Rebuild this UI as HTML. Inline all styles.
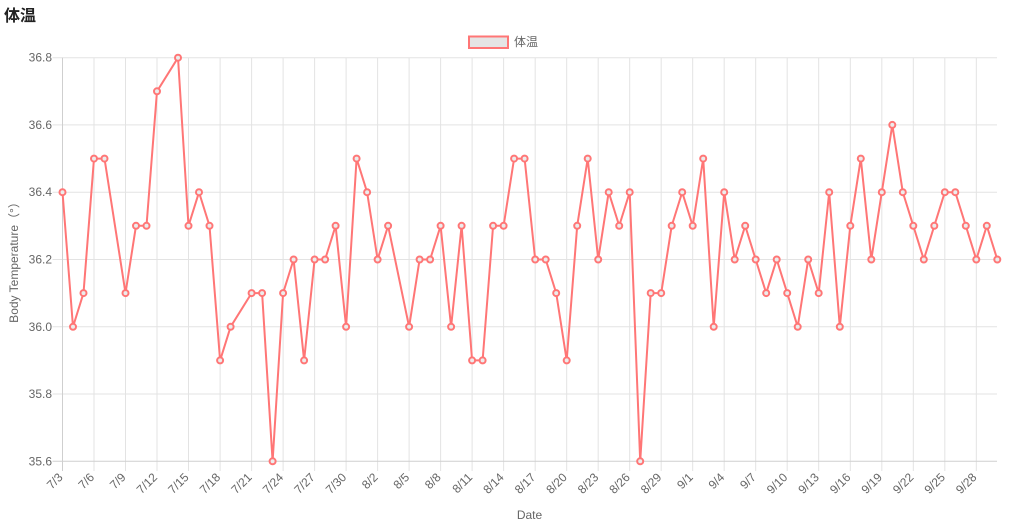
<!DOCTYPE html>
<html>
<head>
<meta charset="utf-8">
<style>
  html, body { margin: 0; padding: 0; background: #fff; }
  body { width: 1010px; height: 530px; overflow: hidden; position: relative; }
  svg { position: absolute; left: 0; top: 0; }
  .t { font-family: "Liberation Sans", "Noto Sans CJK JP", sans-serif; font-size: 12px; fill: #666; }
  .title { font-family: "Liberation Sans", "Noto Sans CJK JP", sans-serif; font-size: 16px; font-weight: bold; fill: #222; }
</style>
</head>
<body>
<svg width="1010" height="530" viewBox="0 0 1010 530" xmlns="http://www.w3.org/2000/svg">
  <defs>
    <marker id="pt" markerUnits="userSpaceOnUse" markerWidth="12" markerHeight="12" refX="6" refY="6" overflow="visible">
      <circle cx="6" cy="6" r="3" fill="#ececec" stroke="#ff7676" stroke-width="2"/>
    </marker>
  </defs>

  <!-- Title -->
  <text class="title" x="4" y="21">体温</text>

  <!-- Legend -->
  <rect x="469" y="36.5" width="39" height="11.5" fill="#e5e5e5" stroke="#ff7676" stroke-width="2"/>
  <text class="t" x="514" y="46">体温</text>

  <!-- Horizontal gridlines -->
  <g stroke="#e3e3e3" stroke-width="1">
    <line x1="52.5" y1="57.7" x2="997" y2="57.7"/>
    <line x1="52.5" y1="124.9" x2="997" y2="124.9"/>
    <line x1="52.5" y1="192.2" x2="997" y2="192.2"/>
    <line x1="52.5" y1="259.5" x2="997" y2="259.5"/>
    <line x1="52.5" y1="326.8" x2="997" y2="326.8"/>
    <line x1="52.5" y1="394.0" x2="997" y2="394.0"/>
  </g>
  <!-- Vertical gridlines -->
  <g stroke="#e3e3e3" stroke-width="1">
    <line x1="94.0" y1="57.7" x2="94.0" y2="471"/>
    <line x1="125.5" y1="57.7" x2="125.5" y2="471"/>
    <line x1="157.0" y1="57.7" x2="157.0" y2="471"/>
    <line x1="188.5" y1="57.7" x2="188.5" y2="471"/>
    <line x1="220.1" y1="57.7" x2="220.1" y2="471"/>
    <line x1="251.6" y1="57.7" x2="251.6" y2="471"/>
    <line x1="283.1" y1="57.7" x2="283.1" y2="471"/>
    <line x1="314.6" y1="57.7" x2="314.6" y2="471"/>
    <line x1="346.1" y1="57.7" x2="346.1" y2="471"/>
    <line x1="377.6" y1="57.7" x2="377.6" y2="471"/>
    <line x1="409.1" y1="57.7" x2="409.1" y2="471"/>
    <line x1="440.6" y1="57.7" x2="440.6" y2="471"/>
    <line x1="472.1" y1="57.7" x2="472.1" y2="471"/>
    <line x1="503.6" y1="57.7" x2="503.6" y2="471"/>
    <line x1="535.2" y1="57.7" x2="535.2" y2="471"/>
    <line x1="566.7" y1="57.7" x2="566.7" y2="471"/>
    <line x1="598.2" y1="57.7" x2="598.2" y2="471"/>
    <line x1="629.7" y1="57.7" x2="629.7" y2="471"/>
    <line x1="661.2" y1="57.7" x2="661.2" y2="471"/>
    <line x1="692.7" y1="57.7" x2="692.7" y2="471"/>
    <line x1="724.2" y1="57.7" x2="724.2" y2="471"/>
    <line x1="755.7" y1="57.7" x2="755.7" y2="471"/>
    <line x1="787.2" y1="57.7" x2="787.2" y2="471"/>
    <line x1="818.7" y1="57.7" x2="818.7" y2="471"/>
    <line x1="850.3" y1="57.7" x2="850.3" y2="471"/>
    <line x1="881.8" y1="57.7" x2="881.8" y2="471"/>
    <line x1="913.3" y1="57.7" x2="913.3" y2="471"/>
    <line x1="944.8" y1="57.7" x2="944.8" y2="471"/>
    <line x1="976.3" y1="57.7" x2="976.3" y2="471"/>
  </g>
  <!-- Axis lines -->
  <g stroke="#cfcfcf" stroke-width="1">
    <line x1="62.5" y1="57.7" x2="62.5" y2="471"/>
    <line x1="52.5" y1="461.3" x2="997" y2="461.3"/>
  </g>

  <!-- Y tick labels -->
  <g class="t" text-anchor="end">
    <text x="52" y="61.7">36.8</text>
    <text x="52" y="128.9">36.6</text>
    <text x="52" y="196.2">36.4</text>
    <text x="52" y="263.5">36.2</text>
    <text x="52" y="330.8">36.0</text>
    <text x="52" y="398.0">35.8</text>
    <text x="52" y="465.3">35.6</text>
  </g>

  <!-- Y axis title -->
  <text class="t" text-anchor="middle" transform="translate(18,259.5) rotate(-90)">Body Temperature（°）</text>

  <!-- X tick labels -->
  <g class="t" text-anchor="end">
    <text transform="translate(63.5,478) rotate(-45)">7/3</text>
    <text transform="translate(95.0,478) rotate(-45)">7/6</text>
    <text transform="translate(126.5,478) rotate(-45)">7/9</text>
    <text transform="translate(158.0,478) rotate(-45)">7/12</text>
    <text transform="translate(189.5,478) rotate(-45)">7/15</text>
    <text transform="translate(221.1,478) rotate(-45)">7/18</text>
    <text transform="translate(252.6,478) rotate(-45)">7/21</text>
    <text transform="translate(284.1,478) rotate(-45)">7/24</text>
    <text transform="translate(315.6,478) rotate(-45)">7/27</text>
    <text transform="translate(347.1,478) rotate(-45)">7/30</text>
    <text transform="translate(378.6,478) rotate(-45)">8/2</text>
    <text transform="translate(410.1,478) rotate(-45)">8/5</text>
    <text transform="translate(441.6,478) rotate(-45)">8/8</text>
    <text transform="translate(473.1,478) rotate(-45)">8/11</text>
    <text transform="translate(504.6,478) rotate(-45)">8/14</text>
    <text transform="translate(536.2,478) rotate(-45)">8/17</text>
    <text transform="translate(567.7,478) rotate(-45)">8/20</text>
    <text transform="translate(599.2,478) rotate(-45)">8/23</text>
    <text transform="translate(630.7,478) rotate(-45)">8/26</text>
    <text transform="translate(662.2,478) rotate(-45)">8/29</text>
    <text transform="translate(693.7,478) rotate(-45)">9/1</text>
    <text transform="translate(725.2,478) rotate(-45)">9/4</text>
    <text transform="translate(756.7,478) rotate(-45)">9/7</text>
    <text transform="translate(788.2,478) rotate(-45)">9/10</text>
    <text transform="translate(819.7,478) rotate(-45)">9/13</text>
    <text transform="translate(851.3,478) rotate(-45)">9/16</text>
    <text transform="translate(882.8,478) rotate(-45)">9/19</text>
    <text transform="translate(914.3,478) rotate(-45)">9/22</text>
    <text transform="translate(945.8,478) rotate(-45)">9/25</text>
    <text transform="translate(977.3,478) rotate(-45)">9/28</text>
  </g>

  <!-- X axis title -->
  <text class="t" x="529.5" y="519" text-anchor="middle">Date</text>

  <!-- Data line -->
  <polyline fill="none" stroke="#ff7676" stroke-width="2" stroke-linejoin="miter"
    marker-start="url(#pt)" marker-mid="url(#pt)" marker-end="url(#pt)"
    points="62.5,192.2 73.0,326.8 83.5,293.1 94.0,158.6 104.5,158.6 125.5,293.1 136.0,225.8 146.5,225.8 157.0,91.3 178.0,57.7 188.5,225.8 199.0,192.2 209.5,225.8 220.1,360.4 230.6,326.8 251.6,293.1 262.1,293.1 272.6,461.3 283.1,293.1 293.6,259.5 304.1,360.4 314.6,259.5 325.1,259.5 335.6,225.8 346.1,326.8 356.6,158.6 367.1,192.2 377.6,259.5 388.1,225.8 409.1,326.8 419.6,259.5 430.1,259.5 440.6,225.8 451.1,326.8 461.6,225.8 472.1,360.4 482.6,360.4 493.1,225.8 503.6,225.8 514.1,158.6 524.6,158.6 535.2,259.5 545.7,259.5 556.2,293.1 566.7,360.4 577.2,225.8 587.7,158.6 598.2,259.5 608.7,192.2 619.2,225.8 629.7,192.2 640.2,461.3 650.7,293.1 661.2,293.1 671.7,225.8 682.2,192.2 692.7,225.8 703.2,158.6 713.7,326.8 724.2,192.2 734.7,259.5 745.2,225.8 755.7,259.5 766.2,293.1 776.7,259.5 787.2,293.1 797.7,326.8 808.2,259.5 818.7,293.1 829.2,192.2 839.8,326.8 850.3,225.8 860.8,158.6 871.3,259.5 881.8,192.2 892.3,124.9 902.8,192.2 913.3,225.8 923.8,259.5 934.3,225.8 944.8,192.2 955.3,192.2 965.8,225.8 976.3,259.5 986.8,225.8 997.3,259.5"/>
</svg>
</body>
</html>
